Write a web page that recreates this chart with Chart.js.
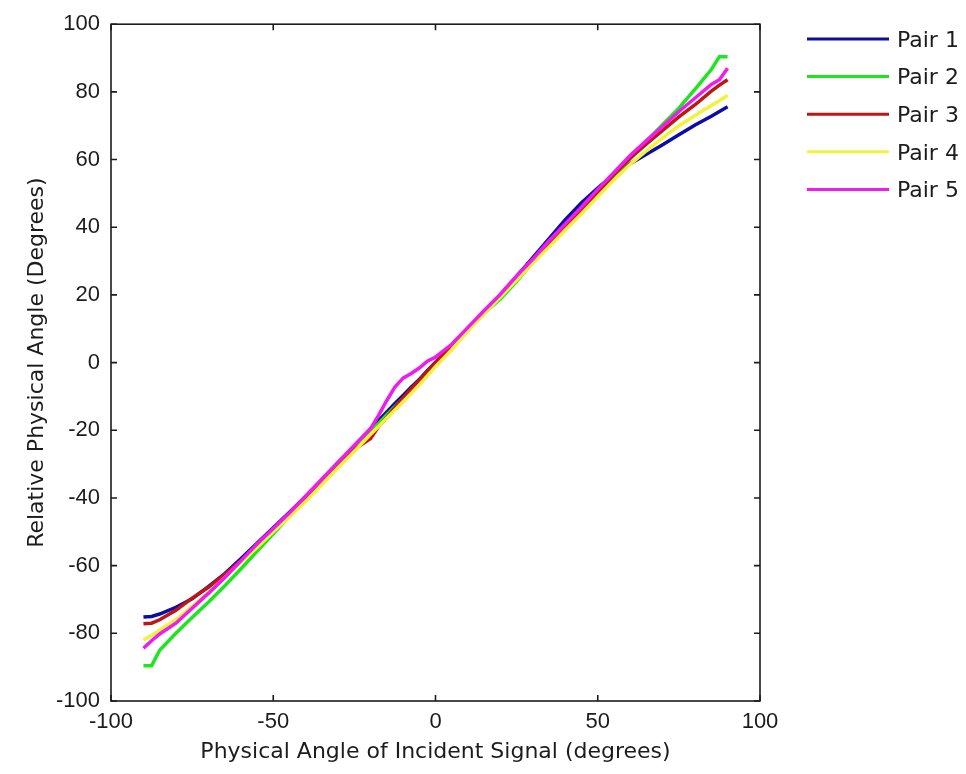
<!DOCTYPE html>
<html>
<head>
<meta charset="utf-8">
<script src="https://cdn.jsdelivr.net/npm/chart.js@4.4.1/dist/chart.umd.min.js"></script>
<style>
html,body{margin:0;padding:0;background:#ffffff;}
#wrap{width:966px;height:774px;}
canvas{display:block;}
</style>
</head>
<body>
<div id="wrap"><canvas id="c" width="966" height="774"></canvas></div>
<script>
// ---- data ----
const angles = [-90,-87.5,-85,-80,-75,-70,-65,-60,-55,-50,-45,-40,-35,-30,-25,-20,-17.5,-15,-12.5,-10,-7.5,-5,-2.5,0,5,10,15,20,25,30,35,40,45,50,55,60,65,70,75,80,85,87.5,90];

const pair1 = [-75.2,-75,-74.3,-72.3,-69.8,-66.2,-62.4,-58,-53.4,-48.8,-44.2,-39.6,-34.8,-29.8,-25.1,-19.6,-17.1,-14.6,-12.1,-9.7,-7.3,-5,-2.4,0.1,4.6,9.6,14.8,20,25.5,31,36.6,42.2,47.2,51.6,55.6,58.8,61.6,64.4,67.3,70.2,72.8,74.2,75.6];
const pair2 = [-89.6,-89.6,-85,-80,-75.3,-70.8,-66,-61,-55.8,-50.6,-45.4,-40.2,-34.6,-29.4,-25,-20.4,-17.9,-15.4,-13,-10.6,-8,-5.4,-2.9,-0.4,4.4,9.8,14.6,18.8,24,29.6,35,40.2,45.2,50.2,55.2,60.4,65.4,70.4,75.2,80.8,86.6,90.4,90.4];
const pair3 = [-77.2,-77,-76,-73.2,-69.6,-66.4,-62.6,-58.6,-54.2,-49.6,-45,-40.2,-35.2,-30.2,-25.6,-22.4,-18.8,-16.2,-13.2,-10.4,-7.8,-5.2,-2.6,0,5,10,15,20,25,30.4,35.4,40.2,45.2,50.4,55.6,60.4,64.6,68.6,72.6,76.2,80.2,82,83.6];
const pair4 = [-82,-80.6,-79,-76,-72,-68,-63.6,-59,-54.6,-50,-45.6,-41,-36,-31,-26.2,-21.2,-18.8,-16.4,-14,-11.6,-9.1,-6.6,-3.9,-1.2,3.8,9.4,14.4,19.4,24.4,29.4,34.2,39.2,44,49,54,58.6,62.6,66.4,70,73,76,77.4,79];
const pair5 = [-84.4,-82.2,-80.2,-77,-72.6,-68.2,-63.6,-58.6,-53.6,-49,-44.4,-39.4,-34.4,-29.4,-24.4,-19.5,-15.5,-11.2,-7.2,-4.6,-3.2,-1.6,0.4,1.6,5.4,10.4,15.4,20.2,25.6,30.6,36,41,46,51.2,56.2,61.2,65.6,69.8,74.2,78.2,82.2,83.6,87];

const seriesNames = ['Pair 1','Pair 2','Pair 3','Pair 4','Pair 5'];
const seriesValues = [pair1, pair2, pair3, pair4, pair5];

const xTicks = [-100,-50,0,50,100];
const yTicks = [-100,-80,-60,-40,-20,0,20,40,60,80,100];

const xTitle = 'Physical Angle of Incident Signal (degrees)';
const yTitle = 'Relative Physical Angle (Degrees)';

// ---- styles ----
const seriesColors = ['#0c0ca6','#1ee61e','#bf1515','#f2f23c','#ee1cee'];
const textColor = '#1c1c1c';
const axisColor = '#1c1c1c';
const tickFont = {family:'"Liberation Sans", Arial, sans-serif', size:22};
const titleFont = {family:'"DejaVu Sans", sans-serif', size:22};

// frame (MATLAB box with inward ticks on all sides)
const framePlugin = {
  id:'frameBox',
  afterDatasetsDraw(chart){
    const {ctx, chartArea:a, scales} = chart;
    const xs = scales.x, ys = scales.y;
    const tl = 6;
    ctx.save();
    ctx.strokeStyle = axisColor;
    ctx.lineWidth = 1.6;
    ctx.strokeRect(a.left, a.top, a.right - a.left, a.bottom - a.top);
    ctx.beginPath();
    xs.ticks.forEach(t => {
      const p = xs.getPixelForValue(t.value);
      ctx.moveTo(p, a.bottom); ctx.lineTo(p, a.bottom - tl);
      ctx.moveTo(p, a.top); ctx.lineTo(p, a.top + tl);
    });
    ys.ticks.forEach(t => {
      const p = ys.getPixelForValue(t.value);
      ctx.moveTo(a.left, p); ctx.lineTo(a.left + tl, p);
      ctx.moveTo(a.right, p); ctx.lineTo(a.right - tl, p);
    });
    ctx.stroke();
    ctx.restore();
  }
};

// side legend (MATLAB style, outside the axes on the right)
const sideLegend = {
  id:'sideLegend',
  afterDraw(chart){
    const ctx = chart.ctx;
    const x0 = 807, x1 = 889, tx = 897, top = 39, gap = 37.6;
    ctx.save();
    ctx.font = '22px "DejaVu Sans", sans-serif';
    ctx.textBaseline = 'middle';
    ctx.textAlign = 'left';
    chart.data.datasets.forEach((ds, i) => {
      const y = top + i * gap;
      ctx.strokeStyle = ds.borderColor;
      ctx.lineWidth = 3;
      ctx.beginPath(); ctx.moveTo(x0, y); ctx.lineTo(x1, y); ctx.stroke();
      ctx.fillStyle = textColor;
      ctx.fillText(ds.label, tx, y + 2);
    });
    ctx.restore();
  }
};

const datasets = seriesNames.map((name, i) => ({
  label: name,
  data: angles.map((a, j) => ({x: a, y: seriesValues[i][j]})),
  borderColor: seriesColors[i],
  backgroundColor: seriesColors[i],
  borderWidth: 3.5,
  pointRadius: 0,
  tension: 0,
  fill: false,
  order: seriesNames.length - i
}));

new Chart(document.getElementById('c'), {
  type: 'line',
  data: { datasets },
  options: {
    responsive: false,
    animation: false,
    layout: { padding: { top: 17, right: 206, left: 0, bottom: 0 } },
    plugins: { legend: { display: false }, tooltip: { enabled: false } },
    scales: {
      x: {
        type: 'linear', min: -100, max: 100,
        afterBuildTicks: s => { s.ticks = xTicks.map(v => ({value: v})); },
        afterFit: s => { s.height = 73; },
        grid: { display: false, drawTicks: false },
        border: { display: false },
        ticks: { font: tickFont, color: textColor, padding: 8, maxRotation: 0, autoSkip: false },
        title: { display: true, text: xTitle, font: titleFont, color: textColor, padding: { top: 0, bottom: 9 } }
      },
      y: {
        type: 'linear', min: -100, max: 100,
        afterBuildTicks: s => { s.ticks = yTicks.map(v => ({value: v})); },
        afterFit: s => { s.width = 111; },
        grid: { display: false, drawTicks: false },
        border: { display: false },
        ticks: { font: tickFont, color: textColor, padding: 11, autoSkip: false },
        title: { display: true, text: yTitle, font: titleFont, color: textColor, padding: { top: 24, bottom: 0 } }
      }
    }
  },
  plugins: [framePlugin, sideLegend]
});
</script>
</body>
</html>
